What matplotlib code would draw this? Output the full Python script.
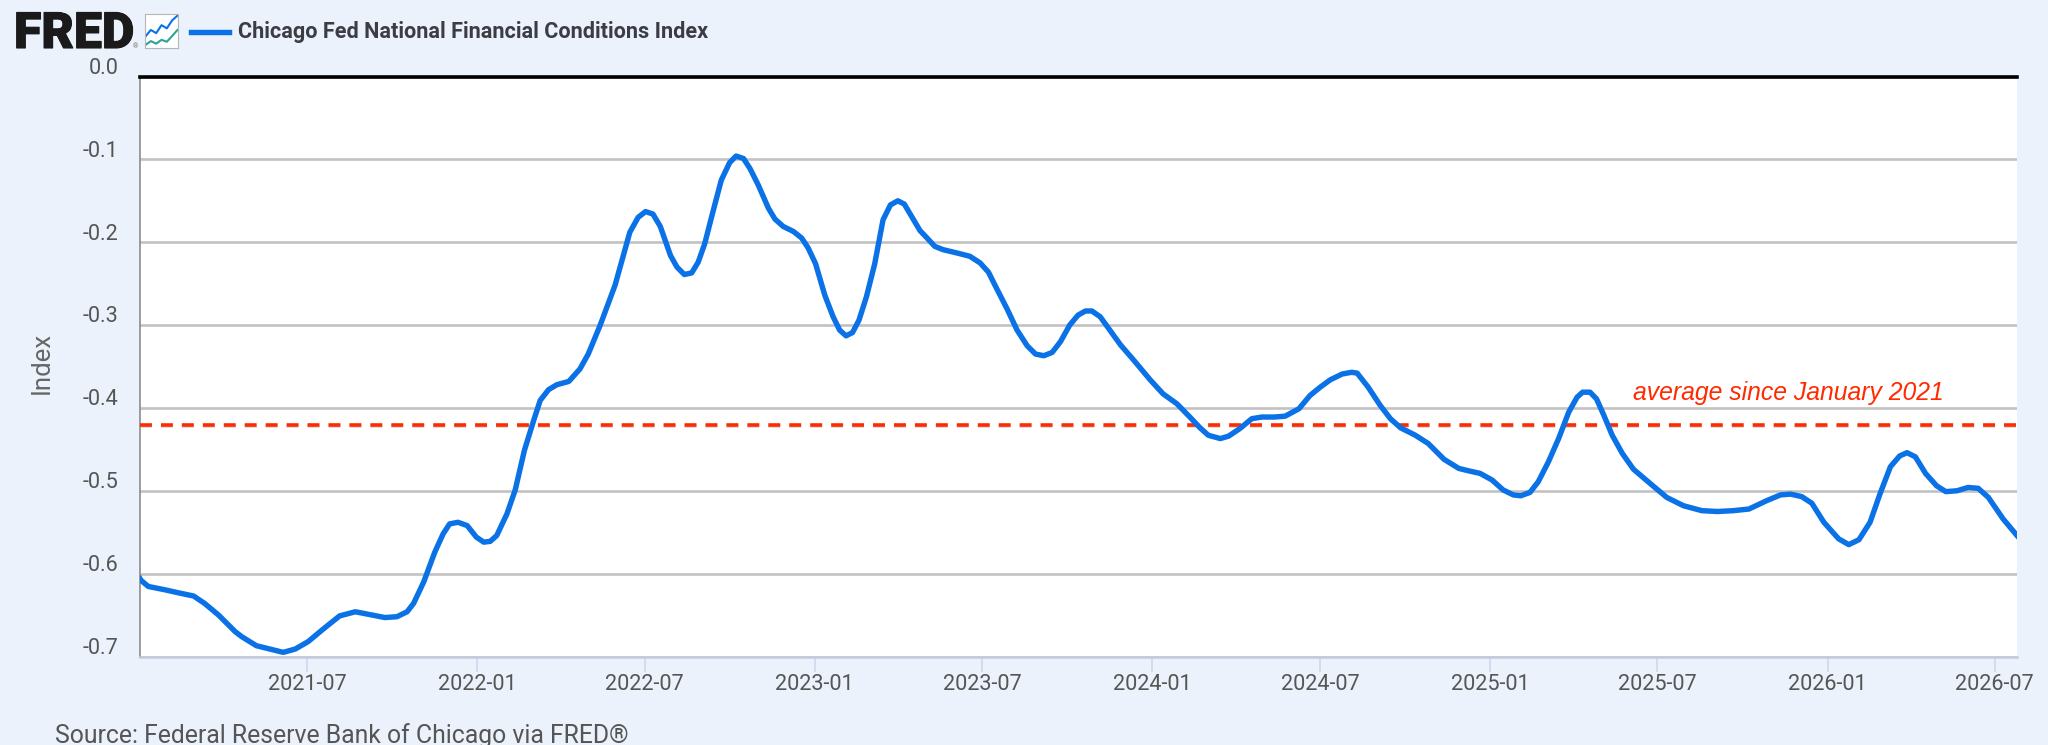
import pandas as pd
import matplotlib.pyplot as plt
import matplotlib.dates as mdates
import matplotlib.patheffects as pe
from matplotlib.transforms import ScaledTranslation

###### Series, days counted from start_date ######
start_date = '2021-01-01'
end_date = '2026-07-25'
average = -0.42

days = [0, 1, 9, 27, 41, 58, 70, 85, 103, 110, 126, 155, 168, 182, 197, 216, 233, 251, 265, 278,
        289, 296, 307, 319, 328, 335, 344, 354, 364, 372, 379, 386, 397, 406, 416, 426, 433, 442, 451, 464,
        476, 485, 498, 514, 530, 539, 547, 555, 563, 574, 581, 589, 597, 604, 611, 620, 629, 638, 645, 653,
        660, 669, 680, 687, 696, 707, 716, 723, 731, 741, 750, 757, 764, 771, 778, 786, 795, 804, 812, 820,
        827, 835, 844, 850, 860, 869, 884, 898, 909, 918, 927, 938, 949, 960, 969, 978, 987, 996, 1006, 1015,
        1023, 1030, 1039, 1048, 1061, 1075, 1093, 1107, 1122, 1136, 1147, 1156, 1169, 1178, 1190, 1203, 1214, 1227, 1239, 1254,
        1266, 1277, 1288, 1301, 1311, 1317, 1329, 1342, 1353, 1364, 1380, 1394, 1411, 1427, 1438, 1450, 1463, 1475, 1486, 1494,
        1504, 1513, 1524, 1535, 1546, 1555, 1561, 1569, 1576, 1584, 1593, 1604, 1616, 1636, 1652, 1670, 1690, 1707, 1724, 1741,
        1760, 1775, 1786, 1798, 1809, 1822, 1838, 1849, 1860, 1872, 1883, 1894, 1904, 1912, 1921, 1932, 1944, 1954, 1966, 1978,
        1989, 2000, 2016, 2031]

values = [-0.606, -0.608, -0.6155, -0.6195, -0.623, -0.627, -0.636, -0.650, -0.670, -0.676, -0.687, -0.695, -0.691, -0.682, -0.668, -0.651, -0.646, -0.650, -0.653, -0.652,
          -0.646, -0.636, -0.610, -0.574, -0.552, -0.540, -0.538, -0.542, -0.556, -0.562, -0.561, -0.554, -0.528, -0.499, -0.451, -0.415, -0.391, -0.378, -0.372, -0.368,
          -0.353, -0.335, -0.300, -0.252, -0.188, -0.170, -0.163, -0.166, -0.181, -0.216, -0.230, -0.239, -0.237, -0.224, -0.202, -0.163, -0.125, -0.104, -0.096, -0.099,
          -0.111, -0.131, -0.159, -0.172, -0.181, -0.187, -0.195, -0.207, -0.226, -0.264, -0.290, -0.306, -0.313, -0.309, -0.294, -0.266, -0.226, -0.173, -0.155, -0.150,
          -0.154, -0.169, -0.186, -0.193, -0.205, -0.209, -0.213, -0.217, -0.225, -0.236, -0.256, -0.280, -0.306, -0.325, -0.335, -0.337, -0.333, -0.320, -0.300, -0.288,
          -0.283, -0.283, -0.290, -0.304, -0.324, -0.342, -0.366, -0.383, -0.395, -0.411, -0.424, -0.433, -0.437, -0.434, -0.425, -0.413, -0.411, -0.411, -0.410, -0.401,
          -0.385, -0.375, -0.366, -0.359, -0.357, -0.358, -0.375, -0.397, -0.413, -0.424, -0.433, -0.443, -0.462, -0.473, -0.476, -0.479, -0.487, -0.499, -0.505, -0.506,
          -0.502, -0.489, -0.465, -0.437, -0.405, -0.387, -0.381, -0.381, -0.389, -0.409, -0.433, -0.455, -0.474, -0.493, -0.508, -0.518, -0.524, -0.525, -0.524, -0.522,
          -0.512, -0.505, -0.504, -0.507, -0.515, -0.538, -0.558, -0.565, -0.559, -0.538, -0.503, -0.471, -0.458, -0.454, -0.459, -0.479, -0.494, -0.501, -0.500, -0.496,
          -0.497, -0.508, -0.534, -0.554]

y_ticks = [0.0, -0.1, -0.2, -0.3, -0.4, -0.5, -0.6, -0.7]
x_ticks = ['2021-07', '2022-01', '2022-07', '2023-01', '2023-07', '2024-01',
           '2024-07', '2025-01', '2025-07', '2026-01', '2026-07']

###### little logo icon lines ######
icon_x = [0, 1, 2, 3, 4, 5, 6]
icon_blue = [3.5, 5.5, 4.5, 7, 6, 8.5, 10]
icon_green = [0.8, 2, 1.2, 2.4, 1.8, 3.6, 5.5]

title = 'Chicago Fed National Financial Conditions Index'
source = 'Source: Federal Reserve Bank of Chicago via FRED®'
note = 'average since January 2021'

bg = '#ebf2fb'
blue = '#0a72e6'
red = '#ff2a00'
W, H = 2048, 745

plt.rcParams['font.family'] = ['Roboto', 'DejaVu Sans']

dates = pd.to_datetime(start_date) + pd.to_timedelta(days, unit='D')

fig = plt.figure(figsize=(W / 100, H / 100), dpi=100, facecolor=bg)
ax = fig.add_axes([140 / W, 1 - 656.5 / H, (2017 - 140) / W, (656.5 - 76.5) / H])

ax.plot(dates, values, color=blue, lw=3.9, zorder=4, solid_joinstyle='round')
ax.axhline(average, color=red, lw=2.6, dashes=(3.3, 2.5), zorder=3,
           path_effects=[pe.SimpleLineShadow(offset=(0, -1.2), shadow_color='#999999', alpha=0.4), pe.Normal()])
ax.axhline(0, color='black', lw=2.6, zorder=5, clip_on=False)

ax.set_xlim(pd.to_datetime(start_date), pd.to_datetime(end_date))
ax.set_ylim(-0.7, 0)

###### y axis: labels sit a little above their gridlines #####
ax.set_yticks(y_ticks)
ax.set_yticklabels(['{:.1f}'.format(v) for v in y_ticks])
ax.tick_params(axis='y', length=0, pad=15.5, labelsize=15.6, labelcolor='#555555')
ax.grid(axis='y', color='#c2c2c2', lw=1.9, zorder=1)
for label in ax.get_yticklabels():
    label.set_transform(label.get_transform() + ScaledTranslation(0, 10.6 / 100, fig.dpi_scale_trans))

ax.set_xticks(mdates.date2num(pd.to_datetime(x_ticks)))
ax.set_xticklabels(x_ticks)
ax.tick_params(axis='x', length=11, width=1.1, color='#ccd6eb', pad=1.5, labelsize=15.6, labelcolor='#555555')

for side in ['top', 'right']:
    ax.spines[side].set_visible(False)
ax.spines['left'].set_color('#8c8c8c')
ax.spines['left'].set_linewidth(1.2)
ax.spines['bottom'].set_color('#c3cbdc')
ax.spines['bottom'].set_linewidth(1.8)

###### text placed in pixel positions of the figure #####
def put(x, y, s, **kw):
    return fig.text(x / W, 1 - y / H, s, **kw)

put(1633, 393, note, color=red, fontsize=17.85, style='italic', family='Liberation Sans', va='center')
put(42, 363, 'Index', color='#666666', fontsize=18.5, rotation=90, ha='center', va='center')
put(55, 736, source, color='#555555', fontsize=17.8, va='center')

###### header #####
logo = put(14, 48, 'FRED', color='#1a1a1a', fontsize=36, weight='black', va='baseline')
logo.set_path_effects([pe.withStroke(linewidth=0.8, foreground='#1a1a1a')])
put(133, 48, '®', color='#777777', fontsize=5, va='baseline')
put(238, 32, title, color='#3c3c44', fontsize=15.6, weight='bold', va='center')
fig.add_artist(plt.Line2D([191 / W, 229 / W], [1 - 32 / H, 1 - 32 / H], color=blue, lw=3.9))

icon = fig.add_axes([145 / W, 1 - 47.5 / H, 33 / W, 33.5 / H], facecolor='white')
icon.plot(icon_x, icon_blue, color=blue, lw=1.5)
icon.plot(icon_x, icon_green, color='#2aa58f', lw=1.5)
icon.set_xlim(-0.1, 6.1)
icon.set_ylim(0, 10.5)
icon.set_xticks([])
icon.set_yticks([])
for spine in icon.spines.values():
    spine.set_color('#b5b5b5')
    spine.set_linewidth(0.8)

plt.savefig('out.png', dpi=100, facecolor=bg)
